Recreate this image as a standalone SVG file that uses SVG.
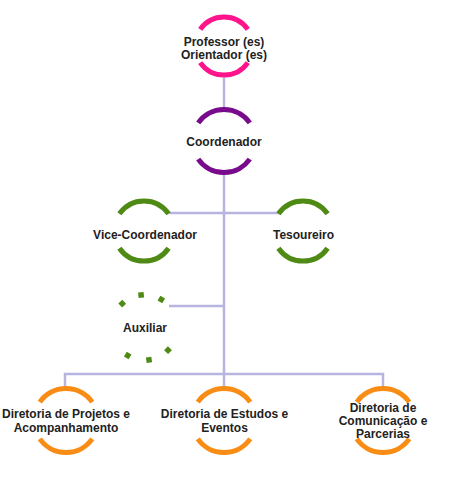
<svg xmlns="http://www.w3.org/2000/svg" width="449" height="477" viewBox="0 0 449 477">
<style>
  .arc { fill: none; stroke-width: 5; stroke-linecap: butt; }
  .pink { stroke: #FF148C; }
  .purple { stroke: #780A8C; }
  .green { stroke: #4F8A14; }
  .orange { stroke: #F98C14; }
  .dot { fill: #4F8A14; }
  .conn { fill: none; stroke: #B8B4E0; stroke-width: 2.5; }
  text { font-family: "Liberation Sans", Arial, sans-serif; font-weight: bold; font-size: 12px; fill: #222222; text-anchor: middle; }
</style>
<rect width="449" height="477" fill="#FFFFFF"/>
<g id="connectors">
  <path class="conn" d="M224 77.5 V107"/>
  <path class="conn" d="M224 175 V386"/>
  <path class="conn" d="M169 213 H279"/>
  <path class="conn" d="M169 306 H224"/>
  <path class="conn" d="M65 386 V374 H383 V386"/>
</g>
<g id="node-professor">
  <path class="arc pink" d="M200.2 29.4 A29 29 0 0 1 247.8 29.4"/>
  <path class="arc pink" d="M200.2 62.6 A29 29 0 0 0 247.8 62.6"/>
  <text x="224" y="46">Professor (es)</text>
  <text x="224" y="59">Orientador (es)</text>
</g>
<g id="node-coordenador">
  <path class="arc purple" d="M198.2 122.9 A31.5 31.5 0 0 1 249.8 122.9"/>
  <path class="arc purple" d="M198.2 159.1 A31.5 31.5 0 0 0 249.8 159.1"/>
  <text x="224" y="146">Coordenador</text>
</g>
<g id="node-vice">
  <path class="arc green" d="M119.4 213.8 A30 30 0 0 1 168.6 213.8"/>
  <path class="arc green" d="M119.4 248.2 A30 30 0 0 0 168.6 248.2"/>
  <text x="145" y="239">Vice-Coordenador</text>
</g>
<g id="node-tesoureiro">
  <path class="arc green" d="M278.4 213.8 A30 30 0 0 1 327.6 213.8"/>
  <path class="arc green" d="M278.4 248.2 A30 30 0 0 0 327.6 248.2"/>
  <text x="303.5" y="239">Tesoureiro</text>
</g>
<g id="node-auxiliar">
  <rect class="dot" x="-2.75" y="-2.75" width="5.5" height="5.5" transform="translate(122.2 303.6) rotate(-43)"/>
  <rect class="dot" x="-2.75" y="-2.75" width="5.5" height="5.5" transform="translate(141.1 295) rotate(-6)"/>
  <rect class="dot" x="-2.75" y="-2.75" width="5.5" height="5.5" transform="translate(161.3 299.5) rotate(31)"/>
  <rect class="dot" x="-2.75" y="-2.75" width="5.5" height="5.5" transform="translate(168 350.2) rotate(134)"/>
  <rect class="dot" x="-2.75" y="-2.75" width="5.5" height="5.5" transform="translate(149 359.9) rotate(172)"/>
  <rect class="dot" x="-2.75" y="-2.75" width="5.5" height="5.5" transform="translate(127.7 355.5) rotate(211)"/>
  <text x="145" y="332">Auxiliar</text>
</g>
<g id="node-projetos">
  <path class="arc orange" d="M39.8 402.1 A32 32 0 0 1 92.2 402.1"/>
  <path class="arc orange" d="M39.8 438.9 A32 32 0 0 0 92.2 438.9"/>
  <text x="66" y="418">Diretoria de Projetos e</text>
  <text x="66" y="431.5">Acompanhamento</text>
</g>
<g id="node-estudos">
  <path class="arc orange" d="M197.8 402.1 A32 32 0 0 1 250.2 402.1"/>
  <path class="arc orange" d="M197.8 438.9 A32 32 0 0 0 250.2 438.9"/>
  <text x="224.5" y="418">Diretoria de Estudos e</text>
  <text x="224.5" y="431.5">Eventos</text>
</g>
<g id="node-comunicacao">
  <path class="arc orange" d="M356.8 402.1 A32 32 0 0 1 409.2 402.1"/>
  <path class="arc orange" d="M356.8 438.9 A32 32 0 0 0 409.2 438.9"/>
  <text x="383" y="412">Diretoria de</text>
  <text x="383" y="425">Comunicação e</text>
  <text x="383" y="437.5">Parcerias</text>
</g>
</svg>
